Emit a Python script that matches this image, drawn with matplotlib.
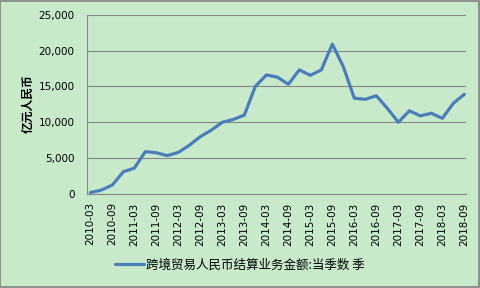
import matplotlib
matplotlib.use("Agg")
import matplotlib.pyplot as plt
from matplotlib.patches import Rectangle
from matplotlib.ticker import FuncFormatter

plt.rcParams['font.family'] = ['DejaVu Sans', 'Noto Sans CJK SC']

quarters = [f"{y}-{m:02d}" for y in range(2010, 2019) for m in (3, 6, 9, 12)][:35]
values = [200, 550, 1250, 3100, 3600, 5900, 5750, 5350, 5800, 6800, 8000, 8900,
          10000, 10400, 11000, 15000, 16600, 16300, 15300, 17300, 16550, 17300,
          20900, 17750, 13350, 13200, 13700, 11950, 10000, 11600, 10900, 11250,
          10550, 12650, 13900]
series_name = "跨境贸易人民币结算业务金额:当季数 季"
y_label = "亿元人民币"
yticks = [0, 5000, 10000, 15000, 20000, 25000]

bg = '#c8eacb'
fig = plt.figure(figsize=(4.8, 2.88), dpi=100, facecolor=bg)
ax = fig.add_axes([87/480, 1-194/288, (466-87)/480, (194-14.7)/288])
ax.set_facecolor(bg)

x = list(range(len(quarters)))
ax.plot(x, values, color='#4a7ebb', lw=2.3, solid_capstyle='round', label=series_name)

ax.set_ylim(0, 25000)
ax.set_yticks(yticks)
ax.yaxis.set_major_formatter(FuncFormatter(lambda v, p: f"{int(v):,}"))
ax.set_xlim(-0.3, len(quarters) - 1 + 0.15)
ax.set_xticks(x[::2])
ax.set_xticklabels(quarters[::2], rotation=90)
ax.grid(axis='y', color='#868686', lw=0.8)
ax.set_axisbelow(True)
for s in ['top', 'right']:
    ax.spines[s].set_visible(False)
ax.spines['bottom'].set_color('#868686')
ax.spines['left'].set_color('#868686')
ax.spines['left'].set_linewidth(0.8)
ax.tick_params(axis='both', length=0, labelsize=7.5, colors='black')
ax.tick_params(axis='y', pad=9)
ax.tick_params(axis='x', pad=6)

fig.text(28/480, 1-104/288, y_label, rotation=90, ha='center', va='center',
         fontsize=8.5, fontweight='bold', family=['Noto Sans CJK SC', 'DejaVu Sans'])

leg = fig.legend(loc='center', bbox_to_anchor=(0.5, 1-265/288), frameon=False,
                 prop={'family': ['Noto Sans CJK SC', 'DejaVu Sans'], 'size': 9},
                 handlelength=2.3, handletextpad=0.15)

fig.add_artist(Rectangle((0.001, 0.002), 0.997, 0.995, transform=fig.transFigure,
                         fill=False, edgecolor='#808080', lw=1.2))

fig.savefig('out.png', dpi=100, facecolor=bg)
